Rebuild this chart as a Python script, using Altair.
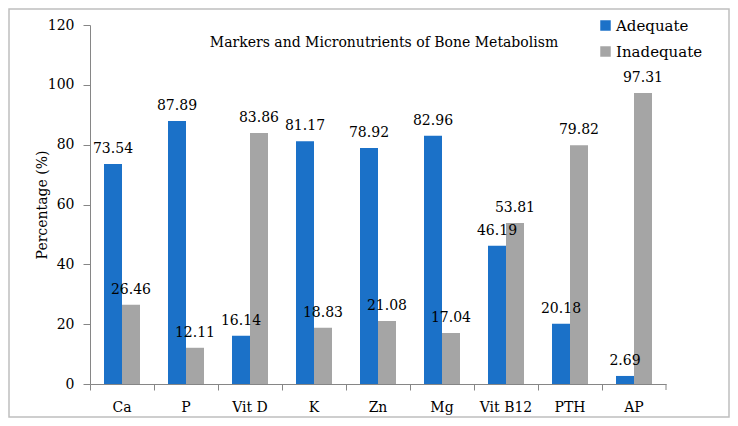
import altair as alt
import pandas as pd

categories = ["Ca", "P", "Vit D", "K", "Zn", "Mg", "Vit B12", "PTH", "AP"]
adequate = [73.54, 87.89, 16.14, 81.17, 78.92, 82.96, 46.19, 20.18, 2.69]
inadequate = [26.46, 12.11, 83.86, 18.83, 21.08, 17.04, 53.81, 79.82, 97.31]
series = ["Adequate", "Inadequate"]
colors = ["#1B71C8", "#A5A5A5"]
y_ticks = [0, 20, 40, 60, 80, 100, 120]
chart_title = "Markers and Micronutrients of Bone Metabolism"

rows = []
for c, a, i in zip(categories, adequate, inadequate):
    rows.append({"cat": c, "group": series[0], "value": a, "label": f"{a:.2f}"})
    rows.append({"cat": c, "group": series[1], "value": i, "label": f"{i:.2f}"})
df = pd.DataFrame(rows)

FONT = "DejaVu Serif"
W, H = 576, 359
AXIS_COLOR = "#868686"

x_enc = alt.X(
    "cat:N", sort=categories,
    scale=alt.Scale(paddingInner=0, paddingOuter=0),
    axis=alt.Axis(title=None, bandPosition=0, labelAngle=0, labelFont=FONT,
                  labelFontSize=14, labelColor="black", labelPadding=10,
                  tickSize=6, tickColor=AXIS_COLOR, domainColor=AXIS_COLOR,
                  grid=False),
)
xo_enc = alt.XOffset("group:N", sort=series,
                     scale=alt.Scale(paddingInner=0, paddingOuter=0.778))
y_enc = alt.Y(
    "value:Q", scale=alt.Scale(domain=[0, 120], nice=False),
    axis=alt.Axis(values=y_ticks, title="Percentage (%)", titleFont=FONT,
                  titleFontSize=14, titleFontWeight="normal", titleColor="black",
                  titleAngle=-90, titleX=-44, titleY=H / 2, titleAlign="center",
                  titleBaseline="alphabetic",
                  labelFont=FONT, labelFontSize=14, labelColor="black",
                  labelPadding=9, tickSize=7, tickColor=AXIS_COLOR,
                  domainColor=AXIS_COLOR, grid=False),
)

base = alt.Chart(df)

bars = base.mark_bar().encode(
    x=x_enc, xOffset=xo_enc, y=y_enc,
    color=alt.Color("group:N", sort=series,
                    scale=alt.Scale(domain=series, range=colors),
                    legend=alt.Legend(title=None, orient="none", legendX=508,
                                      legendY=-7, symbolType="square",
                                      symbolSize=110, symbolStrokeWidth=0,
                                      labelFont=FONT, labelFontSize=15,
                                      labelColor="black", rowPadding=10,
                                      labelOffset=3, padding=0)),
)

labels = base.mark_text(font=FONT, fontSize=14, color="black",
                        baseline="bottom", dy=-8).encode(
    x=alt.X("cat:N", sort=categories), xOffset=xo_enc,
    y=alt.Y("value:Q"), text="label:N",
)

one = alt.Chart(pd.DataFrame({"a": [0]}))

title_mark = one.mark_text(font=FONT, fontSize=14, color="black",
                           baseline="middle", align="center").encode(
    x=alt.value(294), y=alt.value(18), text=alt.value(chart_title))

end_tick = one.mark_rule(color=AXIS_COLOR).encode(
    x=alt.value(W), y=alt.value(H), y2=alt.value(H + 6))

border = one.mark_rect(fill=None, stroke="#BFBFBF", strokeWidth=1.5).encode(
    x=alt.value(-81), x2=alt.value(W + 63), y=alt.value(-16), y2=alt.value(H + 33))

chart = alt.layer(border, bars, labels, title_mark, end_tick).properties(
    width=W, height=H,
    autosize=alt.AutoSizeParams(type="none"),
    padding={"left": 82, "top": 17, "right": 64, "bottom": 34},
    background="white",
).configure_view(stroke=None)

chart.save("out.html", embed_options={"renderer": "svg", "actions": False})
